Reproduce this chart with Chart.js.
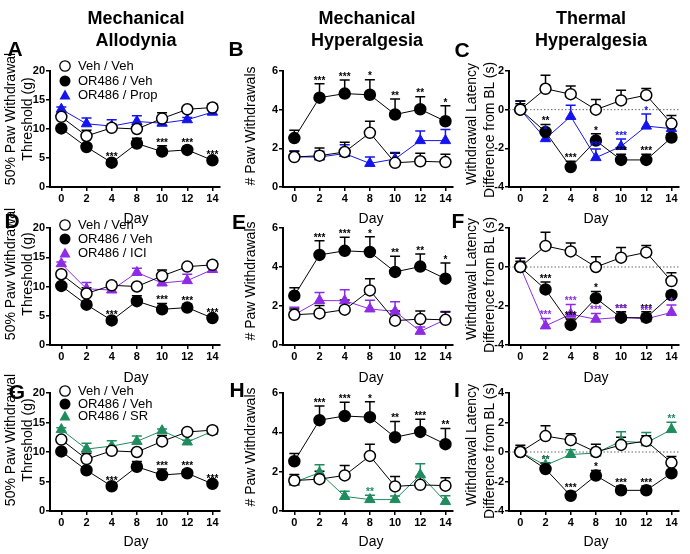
<!DOCTYPE html>
<html>
<head>
<meta charset="utf-8">
<script src="https://cdn.jsdelivr.net/npm/chart.js@4"></script>
<style>
body { margin: 0; background: #fff; font-family: Arial, "Liberation Sans", Helvetica, sans-serif; }
#fig { position: relative; width: 690px; height: 554px; overflow: hidden; }
#fig canvas { position: absolute; left: 0; top: 0; }
.t { position: absolute; white-space: nowrap; color: #000; }
.col { font-weight: bold; font-size: 18px; line-height: 22px; text-align: center; transform: translateX(-50%); }
.let { font-weight: bold; font-size: 21px; transform: translate(-50%, -50%); }
.yt { font-size: 14px; transform: translate(-50%, -50%) rotate(-90deg); }
.day { font-size: 14px; transform: translate(-50%, -50%); }
.leg { font-size: 13px; line-height: 16px; }
.mk { position: absolute; }
</style>
</head>
<body>
<div id="fig"></div>
<script>
// jours (axe x) - les points sont espacés régulièrement
const dayLabels = ['0', '2', '4', '8', '10', '12', '14'];
const dayIdx = [0, 1, 2, 3, 4, 5, 6];

// 50% paw withdrawal threshold (g)
const thrVehVeh = [12.1, 8.8, 10.2, 10.0, 11.8, 13.4, 13.7];
const thrVehVehSem = [0.5, 1.0, 0.6, 0.4, 1.0, 0.3, 0.6];
const thrOrVeh = [10.1, 6.9, 4.2, 7.5, 6.1, 6.4, 4.6];
const thrOrVehSem = [0.3, 0.5, 0.4, 0.9, 1.0, 0.6, 0.3];
const thrOrVehStars = ['', '', '***', '', '***', '***', '***'];
const thrProp = [13.4, 10.9, 10.5, 11.3, 11.0, 11.6, 12.9];
const thrPropSem = [0.4, 1.0, 1.1, 1.0, 0.5, 0.4, 0.4];
const thrIci = [13.9, 9.6, 9.4, 12.4, 10.6, 11.0, 12.9];
const thrIciSem = [0.3, 1.1, 0.6, 0.7, 1.0, 1.1, 0.4];
const thrSr = [13.8, 10.5, 11.0, 11.8, 13.6, 11.7, 13.5];
const thrSrSem = [0.3, 1.0, 0.9, 0.9, 0.3, 0.3, 0.6];

// # paw withdrawals
const wdVehVeh = [1.55, 1.62, 1.81, 2.8, 1.25, 1.33, 1.29];
const wdVehVehSem = [0.3, 0.4, 0.5, 0.6, 0.5, 0.42, 0.4];
const wdOrVeh = [2.53, 4.62, 4.83, 4.77, 3.75, 4.02, 3.4];
const wdOrVehSem = [0.4, 0.72, 0.7, 0.78, 0.8, 0.65, 0.8];
const wdOrVehStars = ['', '***', '***', '*', '**', '**', '*'];
const wdOrVehStarsH = ['', '***', '***', '*', '**', '***', '**'];
const wdProp = [1.56, 1.55, 1.73, 1.22, 1.45, 2.4, 2.4];
const wdPropSem = [0.3, 0.3, 0.45, 0.33, 0.33, 0.5, 0.57];
const wdIci = [1.55, 2.28, 2.27, 1.85, 1.72, 0.7, 1.3];
const wdIciSem = [0.38, 0.41, 0.56, 0.45, 0.5, 0.22, 0.42];
const wdSr = [1.46, 1.95, 0.74, 0.58, 0.58, 1.84, 0.48];
const wdSrSem = [0.25, 0.4, 0.26, 0.22, 0.18, 0.56, 0.29];
const wdSrStars = ['', '', '', '**', '', '', ''];

// withdrawal latency, difference from BL (s)
const latVehVeh = [0, 1.08, 0.8, 0, 0.48, 0.75, -0.72];
const latVehVehSem = [0.45, 0.7, 0.43, 0.52, 0.52, 0.35, 0.42];
const latOrVeh = [0, -1.15, -2.97, -1.6, -2.6, -2.6, -1.44];
const latOrVehSem = [0.3, 0.38, 0.3, 0.35, 0.3, 0.3, 0.2];
const latOrVehStarsC = ['', '**', '***', '*', '***', '***', ''];
const latOrVehStarsF = ['', '***', '***', '*', '***', '***', ''];
const latProp = [0, -1.5, -0.35, -2.48, -1.9, -0.85, -0.98];
const latPropSem = [0.45, 0.3, 0.58, 0.45, 0.38, 0.62, 0.1];
const latPropStars = ['', '*', '', '***', '***', '*', ''];
const latIci = [0, -3.02, -2.42, -2.68, -2.58, -2.66, -2.33];
const latIciSem = [0.45, 0.38, 0.5, 0.3, 0.28, 0.25, 0.38];
const latIciStars = ['', '***', '***', '***', '***', '***', '*'];
const latSr = [0, -0.9, -0.17, -0.07, 0.73, 0.62, 1.52];
const latSrSem = [0.2, 0.15, 0.33, 0.3, 0.65, 0.7, 0.5];
const latSrStars = ['', '**', '', '', '', '', '**'];

const noStars = ['', '', '', '', '', '', ''];

const BLUE = '#1414ee';
const PURPLE = '#8e2be6';
const GREEN = '#1f8c5e';

// mise en page (pixels)
const colLeft = [50, 283, 509];
const rowTopBottom = [[71, 187], [228, 345], [393, 511]];
const areaW = 170;
const yAxisW = 40, xAxisH = 20;

Chart.defaults.font.family = 'Arial, "Liberation Sans", Helvetica, sans-serif';
Chart.defaults.color = '#000';

// barres d'erreur (SEM vers le haut), ligne pointillée du zéro, étoiles
const semPlugin = {
    id: 'semBars',
    beforeDatasetsDraw(chart, args, opts) {
        const ctx = chart.ctx, area = chart.chartArea;
        const x = chart.scales.x, y = chart.scales.y;
        ctx.save();
        if (opts.zeroLine) {
            const y0 = y.getPixelForValue(0);
            ctx.strokeStyle = '#666';
            ctx.lineWidth = 1;
            ctx.setLineDash([1.5, 2]);
            ctx.beginPath();
            ctx.moveTo(area.left, y0);
            ctx.lineTo(area.right, y0);
            ctx.stroke();
            ctx.setLineDash([]);
        }
        chart.data.datasets.slice().reverse().forEach(ds => {
            ctx.strokeStyle = ds.borderColor;
            ctx.lineWidth = 1.5;
            ds.data.forEach((p, i) => {
                const px = x.getPixelForValue(p.x);
                const py = y.getPixelForValue(p.y);
                const pt = y.getPixelForValue(p.y + ds.sem[i]);
                ctx.beginPath();
                ctx.moveTo(px, py);
                ctx.lineTo(px, pt);
                ctx.moveTo(px - 5, pt);
                ctx.lineTo(px + 5, pt);
                ctx.stroke();
            });
        });
        ctx.restore();
    },
    afterDatasetsDraw(chart) {
        const ctx = chart.ctx;
        const x = chart.scales.x, y = chart.scales.y;
        ctx.save();
        ctx.font = 'bold 10px Arial, "Liberation Sans", sans-serif';
        ctx.textAlign = 'center';
        ctx.textBaseline = 'bottom';
        chart.data.datasets.forEach(ds => {
            ctx.fillStyle = ds.starColor;
            ds.data.forEach((p, i) => {
                if (!ds.stars[i]) return;
                const px = x.getPixelForValue(p.x);
                const pt = y.getPixelForValue(p.y + ds.sem[i]);
                ctx.fillText(ds.stars[i], px, pt + 2);
            });
        });
        ctx.restore();
    }
};

function series(vals, sem, stars, kind, color) {
    const ds = {
        data: vals.map((v, i) => ({ x: dayIdx[i], y: v })),
        sem: sem,
        stars: stars,
        starColor: kind === 'drug' ? color : '#000',
        borderColor: color,
        borderWidth: 1,
        tension: 0,
        clip: false,
        pointBorderColor: color,
        pointBorderWidth: 1.5,
        pointRadius: 5.5,
        pointStyle: 'circle',
        pointBackgroundColor: color
    };
    if (kind === 'open') ds.pointBackgroundColor = '#fff';
    if (kind === 'drug') {
        ds.pointStyle = 'triangle';
        ds.pointRadius = 6;
        ds.pointBorderWidth = 1;
    }
    return ds;
}

function makePanel(col, row, yMin, yMax, yStep, datasets, zeroLine) {
    const cv = document.createElement('canvas');
    cv.width = 690;
    cv.height = 554;
    document.getElementById('fig').appendChild(cv);
    const left = colLeft[col], top = rowTopBottom[row][0], bottom = rowTopBottom[row][1];
    const tickFont = { size: 11, weight: 'bold' };
    new Chart(cv.getContext('2d'), {
        type: 'line',
        data: { datasets: datasets },
        plugins: [semPlugin],
        options: {
            responsive: false,
            animation: false,
            events: [],
            layout: {
                padding: { left: left - yAxisW, top: top, right: 690 - left - areaW, bottom: 554 - bottom - xAxisH }
            },
            plugins: {
                legend: { display: false },
                tooltip: { enabled: false },
                semBars: { zeroLine: zeroLine }
            },
            scales: {
                x: {
                    type: 'linear',
                    min: -0.45,
                    max: 6.3,
                    afterBuildTicks: s => { s.ticks = dayIdx.map(v => ({ value: v })); },
                    afterFit: s => { s.height = xAxisH; },
                    ticks: { font: tickFont, padding: 1, maxRotation: 0, callback: v => dayLabels[v] },
                    grid: { drawOnChartArea: false, color: '#000', lineWidth: 1.5, tickLength: 4 },
                    border: { color: '#000', width: 2 }
                },
                y: {
                    min: yMin,
                    max: yMax,
                    afterFit: s => { s.width = yAxisW; },
                    ticks: { stepSize: yStep, font: tickFont, padding: 1 },
                    grid: { drawOnChartArea: false, color: '#000', lineWidth: 1.5, tickLength: 4 },
                    border: { color: '#000', width: 2 }
                }
            }
        }
    });
}

// rangée 1 : propranolol
makePanel(0, 0, 0, 20, 5, [
    series(thrVehVeh, thrVehVehSem, noStars, 'open', '#000'),
    series(thrOrVeh, thrOrVehSem, thrOrVehStars, 'fill', '#000'),
    series(thrProp, thrPropSem, noStars, 'drug', BLUE)
], false);
makePanel(1, 0, 0, 6, 2, [
    series(wdVehVeh, wdVehVehSem, noStars, 'open', '#000'),
    series(wdOrVeh, wdOrVehSem, wdOrVehStars, 'fill', '#000'),
    series(wdProp, wdPropSem, noStars, 'drug', BLUE)
], false);
makePanel(2, 0, -4, 2, 2, [
    series(latVehVeh, latVehVehSem, noStars, 'open', '#000'),
    series(latOrVeh, latOrVehSem, latOrVehStarsC, 'fill', '#000'),
    series(latProp, latPropSem, latPropStars, 'drug', BLUE)
], true);

// rangée 2 : ICI
makePanel(0, 1, 0, 20, 5, [
    series(thrVehVeh, thrVehVehSem, noStars, 'open', '#000'),
    series(thrOrVeh, thrOrVehSem, thrOrVehStars, 'fill', '#000'),
    series(thrIci, thrIciSem, noStars, 'drug', PURPLE)
], false);
makePanel(1, 1, 0, 6, 2, [
    series(wdVehVeh, wdVehVehSem, noStars, 'open', '#000'),
    series(wdOrVeh, wdOrVehSem, wdOrVehStars, 'fill', '#000'),
    series(wdIci, wdIciSem, noStars, 'drug', PURPLE)
], false);
makePanel(2, 1, -4, 2, 2, [
    series(latVehVeh, latVehVehSem, noStars, 'open', '#000'),
    series(latOrVeh, latOrVehSem, latOrVehStarsF, 'fill', '#000'),
    series(latIci, latIciSem, latIciStars, 'drug', PURPLE)
], true);

// rangée 3 : SR
makePanel(0, 2, 0, 20, 5, [
    series(thrVehVeh, thrVehVehSem, noStars, 'open', '#000'),
    series(thrOrVeh, thrOrVehSem, thrOrVehStars, 'fill', '#000'),
    series(thrSr, thrSrSem, noStars, 'drug', GREEN)
], false);
makePanel(1, 2, 0, 6, 2, [
    series(wdVehVeh, wdVehVehSem, noStars, 'open', '#000'),
    series(wdOrVeh, wdOrVehSem, wdOrVehStarsH, 'fill', '#000'),
    series(wdSr, wdSrSem, wdSrStars, 'drug', GREEN)
], false);
makePanel(2, 2, -4, 4, 2, [
    series(latVehVeh, latVehVehSem, noStars, 'open', '#000'),
    series(latOrVeh, latOrVehSem, latOrVehStarsC, 'fill', '#000'),
    series(latSr, latSrSem, latSrStars, 'drug', GREEN)
], true);

// textes
const fig = document.getElementById('fig');
function addText(cls, html, left, top) {
    const d = document.createElement('div');
    d.className = 't ' + cls;
    d.innerHTML = html;
    d.style.left = left + 'px';
    d.style.top = top + 'px';
    fig.appendChild(d);
    return d;
}

addText('col', 'Mechanical<br>Allodynia', 136, 7);
addText('col', 'Mechanical<br>Hyperalgesia', 367, 7);
addText('col', 'Thermal<br>Hyperalgesia', 591, 7);

const letters = [['A', 15, 49], ['B', 236, 49], ['C', 462, 50],
                 ['D', 12, 221], ['E', 239, 222], ['F', 458, 221],
                 ['G', 17, 392], ['H', 237, 390], ['I', 457, 390]];
letters.forEach(l => addText('let', l[0], l[1], l[2]));

const rowShift = [0, 155, 321];
rowShift.forEach(dy => {
    addText('yt', '50% Paw Withdrawal', 10, 119 + dy);
    addText('yt', 'Threshold (g)', 27, 119 + dy);
    addText('yt', '# Paw Withdrawals', 250, 126 + dy);
    addText('yt', 'Withdrawal Latency', 471, 124 + dy);
    addText('yt', 'Difference from BL (s)', 489, 130 + dy);
});

[218, 377, 541].forEach(y => {
    addText('day', 'Day', 136, y);
    addText('day', 'Day', 371, y);
    addText('day', 'Day', 596, y);
});

// légendes
const legendRows = [[66, 80.5, 95], [225, 239, 253], [391, 403.5, 416]];
const legendDrug = [['OR486 / Prop', BLUE], ['OR486 / ICI', PURPLE], ['OR486 / SR', GREEN]];
function marker(kind, color, cx, cy) {
    let svg = '<svg width="14" height="14" viewBox="0 0 14 14">';
    if (kind === 'open') svg += '<circle cx="7" cy="7" r="5.2" fill="#fff" stroke="#000" stroke-width="1.3"/>';
    if (kind === 'fill') svg += '<circle cx="7" cy="7" r="5.5" fill="#000"/>';
    if (kind === 'drug') svg += '<polygon points="7,1.5 12.5,11.5 1.5,11.5" fill="' + color + '"/>';
    svg += '</svg>';
    const d = addText('mk', svg, cx - 7, cy - 7);
    d.style.lineHeight = '0';
}
legendRows.forEach((ys, r) => {
    marker('open', '#000', 65, ys[0]);
    marker('fill', '#000', 65, ys[1]);
    marker('drug', legendDrug[r][1], 65, ys[2]);
    addText('leg', 'Veh / Veh', 78, ys[0] - 8);
    addText('leg', 'OR486 / Veh', 78, ys[1] - 8);
    addText('leg', legendDrug[r][0], 78, ys[2] - 8);
});
</script>
</body>
</html>
